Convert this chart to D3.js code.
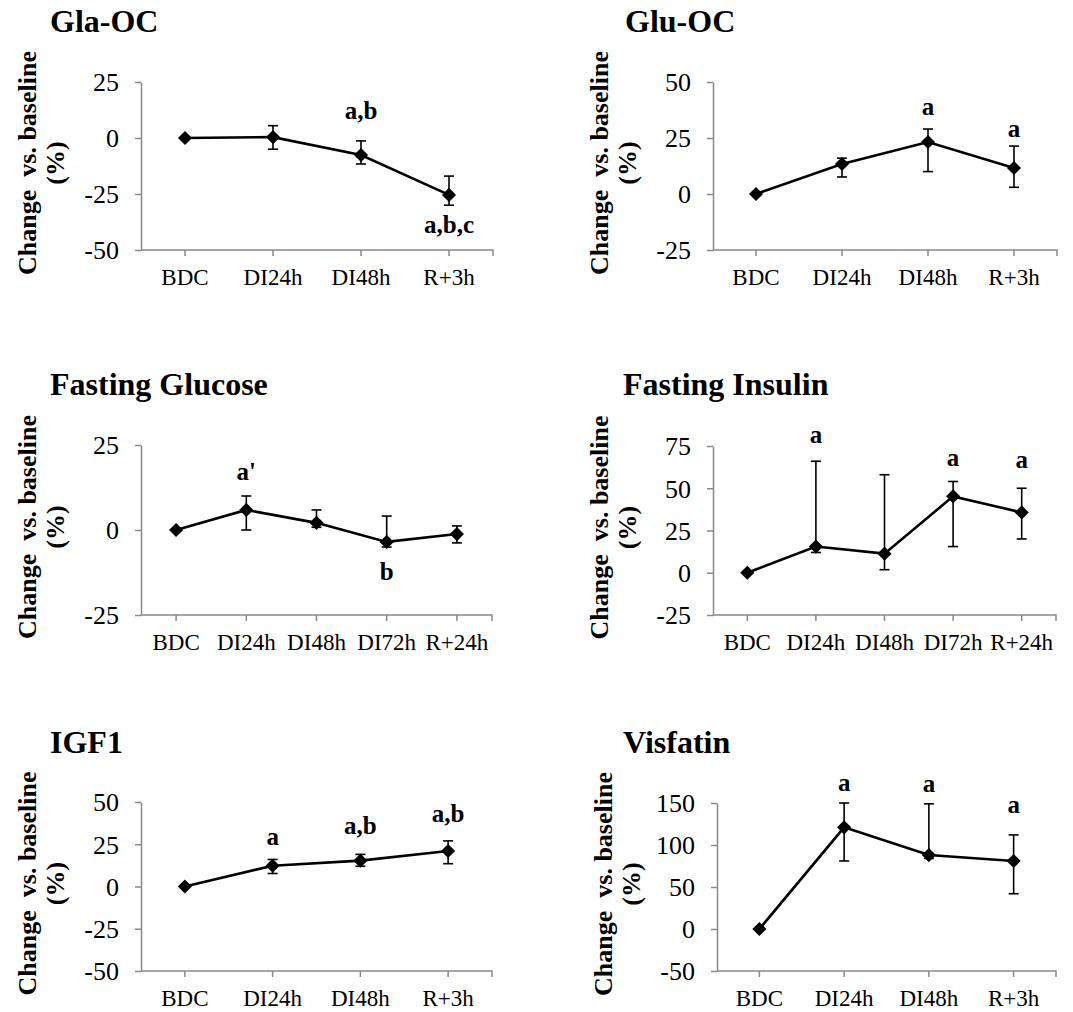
<!DOCTYPE html>
<html>
<head>
<meta charset="utf-8">
<script src="https://cdn.jsdelivr.net/npm/d3@7"></script>
<style>
  body { margin: 0; background: #fff; }
  svg { display: block; }
  text { font-family: "Liberation Serif", "Times New Roman", serif; fill: #000; }
  .ylab { white-space: pre; }
</style>
</head>
<body>
<svg id="chart" width="1073" height="1012"></svg>
<script>
// ---- data (percent change vs. baseline) ----
var cats4 = ["BDC", "DI24h", "DI48h", "R+3h"];
var cats5 = ["BDC", "DI24h", "DI48h", "DI72h", "R+24h"];

var glaMean  = [0, 0.4, -7.6, -25.4];
var glaUpper = [0, 5.5, -1.3, -17];
var glaLower = [0, -5, -11.6, -30];
var glaTicks = [-50, -25, 0, 25];
var glaNotes = [{i: 2, text: "a,b", y: 8.5}, {i: 3, text: "a,b,c", y: -42.4}];

var gluMean  = [0, 13.4, 23.2, 11.6];
var gluUpper = [0, 16, 29, 21.4];
var gluLower = [0, 7.6, 10, 3];
var gluTicks = [-25, 0, 25, 50];
var gluNotes = [{i: 2, text: "a", y: 35.3}, {i: 3, text: "a", y: 25.4}];

var glcMean  = [0, 5.9, 2.1, -3.5, -1.2];
var glcUpper = [0, 10, 5.9, 4.1, 1.2];
var glcLower = [0, 0, 0.8, -5, -3.8];
var glcTicks = [-25, 0, 25];
var glcNotes = [{i: 1, text: "a'", y: 14.7}, {i: 3, text: "b", y: -14.7}];

var insMean  = [0, 15.5, 11.3, 45.2, 35.7];
var insUpper = [0, 66, 58, 54, 50];
var insLower = [0, 12, 1.8, 15.5, 20];
var insTicks = [-25, 0, 25, 50, 75];
var insNotes = [{i: 1, text: "a", y: 76.8}, {i: 3, text: "a", y: 63}, {i: 4, text: "a", y: 62}];

var igfMean  = [0, 12.3, 15.3, 21];
var igfUpper = [0, 16, 19, 27];
var igfLower = [0, 7.7, 12, 13.5];
var igfTicks = [-50, -25, 0, 25, 50];
var igfNotes = [{i: 1, text: "a", y: 24.4}, {i: 2, text: "a,b", y: 31}, {i: 3, text: "a,b", y: 38}];

var visMean  = [0, 121, 88, 81];
var visUpper = [0, 150, 149, 112];
var visLower = [0, 81, 84, 42];
var visTicks = [-50, 0, 50, 100, 150];
var visNotes = [{i: 1, text: "a", y: 164}, {i: 2, text: "a", y: 163}, {i: 3, text: "a", y: 138}];

// ---- panels: data + placement ----
var panels = [
  {title: "Gla-OC", cats: cats4, mean: glaMean, upper: glaUpper, lower: glaLower, ticks: glaTicks, notes: glaNotes,
   left: 141, right: 493, top: 82, bottom: 250, titleX: 50, titleY: 32},
  {title: "Glu-OC", cats: cats4, mean: gluMean, upper: gluUpper, lower: gluLower, ticks: gluTicks, notes: gluNotes,
   left: 713, right: 1057, top: 82, bottom: 250, titleX: 625, titleY: 32},
  {title: "Fasting Glucose", cats: cats5, mean: glcMean, upper: glcUpper, lower: glcLower, ticks: glcTicks, notes: glcNotes,
   left: 141, right: 492, top: 445, bottom: 615, titleX: 50, titleY: 395},
  {title: "Fasting Insulin", cats: cats5, mean: insMean, upper: insUpper, lower: insLower, ticks: insTicks, notes: insNotes,
   left: 713, right: 1056, top: 446, bottom: 615, titleX: 623, titleY: 395},
  {title: "IGF1", cats: cats4, mean: igfMean, upper: igfUpper, lower: igfLower, ticks: igfTicks, notes: igfNotes,
   left: 141, right: 492, top: 802, bottom: 971, titleX: 50, titleY: 753},
  {title: "Visfatin", cats: cats4, mean: visMean, upper: visUpper, lower: visLower, ticks: visTicks, notes: visNotes,
   left: 717, right: 1056, top: 803, bottom: 971, titleX: 623, titleY: 753}
];

var AXIS_COLOR = "#898989";
var svg = d3.select("#chart");
svg.append("rect").attr("width", 1073).attr("height", 1012).attr("fill", "#fff");

var diamond = d3.symbol().type(d3.symbolSquare).size(100);

panels.forEach(function(p){
  var g = svg.append("g");

  var x = d3.scaleBand().domain(p.cats).range([p.left, p.right]);
  var y = d3.scaleLinear()
            .domain([p.ticks[0], p.ticks[p.ticks.length-1]])
            .range([p.bottom, p.top]);
  var cx = function(i){ return x(p.cats[i]) + x.bandwidth()/2; };

  // title
  g.append("text")
    .attr("x", p.titleX).attr("y", p.titleY)
    .attr("font-size", 32).attr("font-weight", "bold")
    .text(p.title);

  // y axis label (two lines, rotated)
  var cy = (p.top + p.bottom)/2 - 3;
  g.append("text").attr("class", "ylab")
    .attr("transform", "translate(" + (p.left-105) + "," + cy + ") rotate(-90)")
    .attr("text-anchor", "middle").attr("font-size", 26).attr("font-weight", "bold")
    .text("Change  vs. baseline");
  g.append("text")
    .attr("transform", "translate(" + (p.left-77) + "," + cy + ") rotate(-90)")
    .attr("text-anchor", "middle").attr("font-size", 26).attr("font-weight", "bold")
    .text("(%)");

  // y axis
  var yAxis = g.append("g")
    .attr("transform", "translate(" + p.left + ",0)")
    .call(d3.axisLeft(y).tickValues(p.ticks).tickSize(6).tickSizeOuter(0).tickPadding(16)
      .tickFormat(function(d){ return String(d); }));
  yAxis.attr("font-family", null);
  yAxis.select(".domain").attr("stroke", AXIS_COLOR).attr("stroke-width", 1.5);
  yAxis.selectAll(".tick line").attr("stroke", AXIS_COLOR).attr("stroke-width", 1.5);
  yAxis.selectAll(".tick text")
    .attr("font-size", 26).attr("dy", "0.34em").style("fill", "#000");

  // x axis (at the bottom of the y range)
  var xAxis = g.append("g")
    .attr("transform", "translate(0," + p.bottom + ")")
    .call(d3.axisBottom(x).tickSize(6).tickSizeOuter(6).tickPadding(13));
  xAxis.attr("font-family", null);
  xAxis.select(".domain").attr("stroke", AXIS_COLOR).attr("stroke-width", 1.5)
    .attr("d", "M" + p.left + ",0H" + p.right + "V6");
  xAxis.selectAll(".tick line").attr("stroke", AXIS_COLOR).attr("stroke-width", 1.5);
  xAxis.selectAll(".tick text")
    .attr("font-size", 23).style("fill", "#000");

  // error bars
  var idx = d3.range(p.cats.length).filter(function(i){ return p.upper[i] !== p.lower[i]; });
  var eb = g.append("g").attr("stroke", "#000").attr("stroke-width", 1.6);
  eb.selectAll("line.v").data(idx).enter().append("line")
    .attr("x1", cx).attr("x2", cx)
    .attr("y1", function(i){ return y(p.upper[i]); })
    .attr("y2", function(i){ return y(p.lower[i]); });
  eb.selectAll("line.top").data(idx).enter().append("line")
    .attr("x1", function(i){ return cx(i)-5; }).attr("x2", function(i){ return cx(i)+5; })
    .attr("y1", function(i){ return y(p.upper[i]); }).attr("y2", function(i){ return y(p.upper[i]); });
  eb.selectAll("line.bot").data(idx).enter().append("line")
    .attr("x1", function(i){ return cx(i)-5; }).attr("x2", function(i){ return cx(i)+5; })
    .attr("y1", function(i){ return y(p.lower[i]); }).attr("y2", function(i){ return y(p.lower[i]); });

  // mean line
  var line = d3.line()
    .x(function(d, i){ return cx(i); })
    .y(function(d){ return y(d); });
  g.append("path").datum(p.mean)
    .attr("d", line).attr("fill", "none")
    .attr("stroke", "#000").attr("stroke-width", 2.6);

  // diamond markers
  g.selectAll("path.pt").data(p.mean).enter().append("path")
    .attr("class", "pt")
    .attr("d", diamond)
    .attr("transform", function(d, i){ return "translate(" + cx(i) + "," + y(d) + ") rotate(45)"; })
    .attr("fill", "#000");

  // significance letters
  g.selectAll("text.note").data(p.notes).enter().append("text")
    .attr("class", "note")
    .attr("x", function(d){ return cx(d.i); })
    .attr("y", function(d){ return y(d.y); })
    .attr("text-anchor", "middle").attr("font-size", 25).attr("font-weight", "bold")
    .text(function(d){ return d.text; });
});
</script>
</body>
</html>
